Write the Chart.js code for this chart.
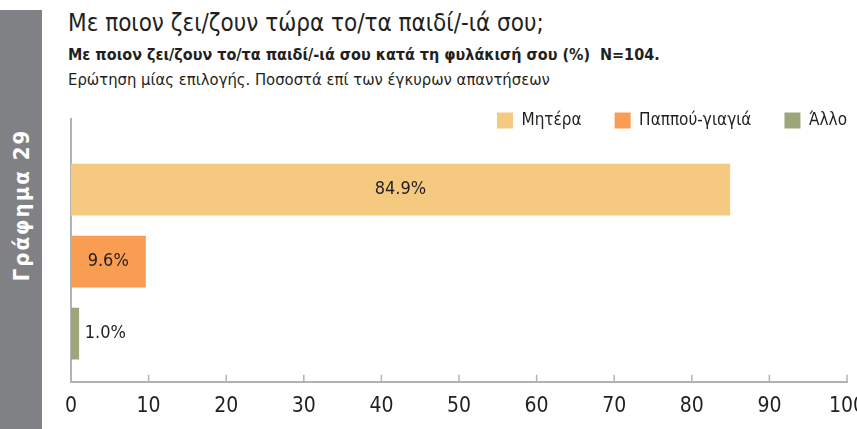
<!DOCTYPE html>
<html>
<head>
<meta charset="utf-8">
<script src="https://cdn.jsdelivr.net/npm/chart.js@4.4.0/dist/chart.umd.min.js"></script>
<style>
  body { margin: 0; background: #fff; }
  #wrap { position: relative; width: 857px; height: 429px; overflow: hidden; }
  #side { position: absolute; left: 0; top: 10px; width: 42px; height: 419px; background: #808184; }
  #side span { position: absolute; left: 21px; top: 195px; transform: translate(-50%, -50%) rotate(-90deg);
    color: #fff; font: bold 22px 'DejaVu Sans Condensed', sans-serif; letter-spacing: 2px; white-space: nowrap; }
  .h { position: absolute; left: 68px; color: #231f20; white-space: nowrap;
    font-family: 'DejaVu Sans Condensed', sans-serif; }
  #t1 { top: 9px; font-size: 24px; }
  #t2 { top: 45px; font-size: 16px; font-weight: bold; }
  #t3 { top: 70px; font-size: 16.5px; }
  #box { position: absolute; left: 0; top: 0; width: 857px; height: 429px; }
</style>
</head>
<body>
<div id="wrap">
  <div id="side"><span>Γράφημα 29</span></div>
  <div class="h" id="t1">Με ποιον ζει/ζουν τώρα το/τα παιδί/-ιά σου;</div>
  <div class="h" id="t2">Με ποιον ζει/ζουν το/τα παιδί/-ιά σου κατά τη φυλάκισή σου (%)&nbsp; N=104.</div>
  <div class="h" id="t3">Ερώτηση μίας επιλογής. Ποσοστά επί των έγκυρων απαντήσεων</div>
  <div id="box"><canvas id="barChart"></canvas></div>
</div>
<script>
// data
const categories = ['Μητέρα', 'Παππού-γιαγιά', 'Άλλο'];
const values = [84.9, 9.6, 1.0];
const rows = [1, 2, 3];
const colors = ['#f5c97f', '#f99d52', '#9da67b'];

const FONT = "'DejaVu Sans Condensed', sans-serif";
const AXIS = '#b3b3b3';

// keep the legend from pushing the plot down
const legendFit = {
    id: 'legendFit',
    beforeLayout(chart) {
        const lg = chart.legend;
        if (lg && !lg._patched) {
            const fit = lg.fit;
            lg.fit = function () { fit.call(this); this.height = 40; };
            lg._patched = true;
        }
    },
    afterLayout(chart) {
        // legend clips to its own box, give it room below
        if (chart.legend) chart.legend.bottom = chart.legend.top + 60;
    }
};

// short tick marks pointing up from the x axis
const tickMarks = {
    id: 'tickMarks',
    afterDraw(chart) {
        const { ctx, chartArea } = chart;
        const x = chart.scales.x;
        ctx.save();
        ctx.strokeStyle = AXIS;
        ctx.lineWidth = 1.5;
        x.ticks.forEach(t => {
            const px = x.getPixelForValue(t.value);
            ctx.beginPath();
            ctx.moveTo(px, chartArea.bottom);
            ctx.lineTo(px, chartArea.bottom - 7);
            ctx.stroke();
        });
        ctx.restore();
    }
};

// value labels: inside the bar when it is wide, otherwise after it
const barLabels = {
    id: 'barLabels',
    afterDatasetsDraw(chart) {
        const ctx = chart.ctx;
        ctx.save();
        ctx.font = '18px ' + FONT;
        ctx.fillStyle = '#231f20';
        ctx.textBaseline = 'middle';
        chart.data.datasets.forEach((ds, i) => {
            const bar = chart.getDatasetMeta(i).data[0];
            const { x, y, base } = bar.getProps(['x', 'y', 'base'], true);
            const txt = ds.data[0].x.toFixed(1) + '%';
            if (x - base > 50) {
                ctx.textAlign = 'center';
                ctx.fillText(txt, (x + base) / 2, y);
            } else {
                ctx.textAlign = 'left';
                ctx.fillText(txt, x + 6, y);
            }
        });
        ctx.restore();
    }
};

const barCtx = document.getElementById('barChart').getContext('2d');
const barChart = new Chart(barCtx, {
    type: 'bar',
    data: {
        datasets: categories.map((c, i) => ({
            label: c,
            data: [{ x: values[i], y: rows[i] }],
            backgroundColor: colors[i],
            barThickness: 51,
            grouped: false
        }))
    },
    options: {
        indexAxis: 'y',
        responsive: true,
        maintainAspectRatio: false,
        animation: false,
        layout: { padding: { top: 79, left: 63, right: -23, bottom: -2 } },
        scales: {
            x: {
                type: 'linear',
                min: 0,
                max: 100,
                grid: { display: false, drawTicks: false },
                border: { color: AXIS, width: 2 },
                ticks: { stepSize: 10, padding: 12, color: '#231f20', font: { family: FONT, size: 21 } },
                afterFit(scale) { scale.paddingRight = 10; }
            },
            y: {
                type: 'linear',
                reverse: true,
                offset: false,
                min: 0.02,
                max: 3.67,
                grid: { display: false },
                border: { color: AXIS, width: 2 },
                ticks: { display: false }
            }
        },
        plugins: {
            legend: {
                position: 'top',
                align: 'end',
                labels: {
                    boxWidth: 16,
                    boxHeight: 16,
                    padding: 33,
                    color: '#231f20',
                    font: { family: FONT, size: 17 }
                }
            },
            tooltip: { enabled: false }
        }
    },
    plugins: [legendFit, tickMarks, barLabels]
});
</script>
</body>
</html>
